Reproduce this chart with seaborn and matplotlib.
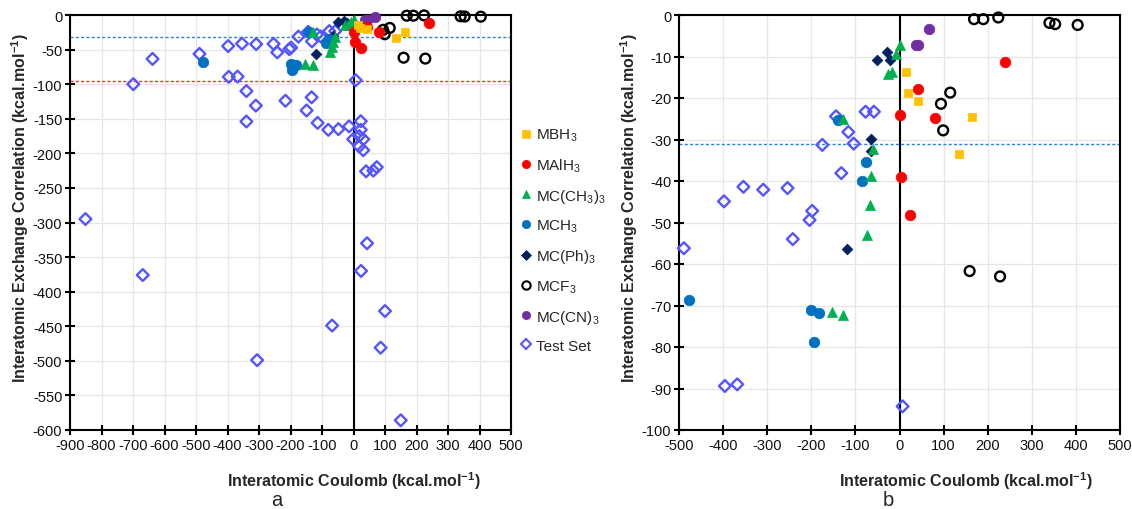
import matplotlib
matplotlib.use("Agg")
import matplotlib.pyplot as plt
from matplotlib.lines import Line2D
import seaborn as sns
import pandas as pd
import numpy as np

# ---------------- data ----------------
series_names = ["MBH3", "MAlH3", "MC(CH3)3", "MCH3", "MC(Ph)3", "MCF3", "MC(CN)3", "Test Set"]
legend_labels = [r"MBH$_3$", r"MAlH$_3$", r"MC(CH$_3$)$_3$", r"MCH$_3$",
                 r"MC(Ph)$_3$", r"MCF$_3$", r"MC(CN)$_3$", "Test Set"]

mbh3_x = [15, 20, 42, 164, 135]
mbh3_y = [-13.8, -18.7, -20.8, -24.5, -33.6]

malh3_x = [240, 42, 0, 80, 4, 24]
malh3_y = [-11.3, -17.9, -24.1, -24.9, -39.1, -48.2]

mcch3_x = [1, -9, -26, -16, -127, -59, -65, -67, -74, -154, -129]
mcch3_y = [-7.3, -9.5, -14.1, -13.8, -25.0, -32.4, -38.9, -45.9, -53.1, -71.5, -72.2]

mch3_x = [-140, -77, -86, -477, -200, -182, -195]
mch3_y = [-25.3, -35.4, -40.1, -68.6, -71.1, -71.9, -78.9]

mcph3_x = [-29, -50, -21, -65, -65, -119]
mcph3_y = [-8.8, -10.8, -10.9, -29.8, -32.8, -56.4]

mcf3_x = [169, 190, 224, 340, 353, 404, 115, 94, 99, 159, 228]
mcf3_y = [-1.0, -1.0, -0.6, -1.9, -2.2, -2.4, -18.7, -21.4, -27.8, -61.7, -63.0]

mccn3_x = [68, 38, 43]
mccn3_y = [-3.4, -7.2, -7.2]

test_x = [-144, -77, -58, -116, -175, -104, -132, -398, -354, -309, -254, -198, -204,
          -242, -489, -396, -368, 7,
          -851, -638, -699, -340, -310, -340, -216, -149, -133, -114, -80, -48, -14,
          23, 23, -1, 18, 31, 18, 31, 40, 63, 74, 43,
          -669, 24, 100, -68, -306, 86, 150]
test_y = [-24.4, -23.3, -23.3, -28.2, -31.3, -31.0, -38.1, -44.9, -41.4, -42.1, -41.7, -47.2, -49.4,
          -54.0, -56.2, -89.4, -89.0, -94.3,
          -295, -63.5, -100, -110, -131, -154, -124, -138, -119, -156, -166, -165, -161,
          -153.6, -166, -179.6, -175, -179.6, -190, -195.5, -226, -225, -220, -330,
          -376, -370, -428, -449, -499, -481, -586]

ref_blue = -31.2
ref_red = -95.0

left_xticks = list(range(-900, 501, 100))
left_yticks = list(range(-600, 1, 50))
right_xticks = list(range(-500, 501, 100))
right_yticks = list(range(-100, 1, 10))

# ---------------- styles ----------------
styles = {
    "MBH3":     dict(marker="s", color="#FFC000", filled=True,  s=36),
    "MAlH3":    dict(marker="o", color="#FF0000", filled=True,  s=58),
    "MC(CH3)3": dict(marker="^", color="#00B050", filled=True,  s=52),
    "MCH3":     dict(marker="o", color="#0070C0", filled=True,  s=58),
    "MC(Ph)3":  dict(marker="D", color="#002060", filled=True,  s=30),
    "MCF3":     dict(marker="o", color="#000000", filled=False, s=50),
    "MC(CN)3":  dict(marker="o", color="#7030A0", filled=True,  s=58),
    "Test Set": dict(marker="D", color="#5555FF", filled=False, s=36),
}

xs = [mbh3_x, malh3_x, mcch3_x, mch3_x, mcph3_x, mcf3_x, mccn3_x, test_x]
ys = [mbh3_y, malh3_y, mcch3_y, mch3_y, mcph3_y, mcf3_y, mccn3_y, test_y]
rows = []
for name, xv, yv in zip(series_names, xs, ys):
    for a, b in zip(xv, yv):
        rows.append((name, a, b))
df = pd.DataFrame(rows, columns=["series", "x", "y"])

sns.set_theme(style="white")
plt.rcParams["font.family"] = ["Liberation Sans", "DejaVu Sans"]
plt.rcParams["axes.unicode_minus"] = False
plt.rcParams["mathtext.fontset"] = "custom"
plt.rcParams["mathtext.rm"] = "Liberation Sans"
plt.rcParams["mathtext.it"] = "Liberation Sans:italic"
plt.rcParams["mathtext.bf"] = "Liberation Sans:bold"

W, H = 1132, 510
fig = plt.figure(figsize=(W / 100, H / 100), dpi=100)

ax_l = fig.add_axes([70 / W, 1 - 431 / H, 441 / W, 415 / H])
ax_r = fig.add_axes([679 / W, 1 - 431 / H, 441 / W, 415 / H])


def draw_panel(ax, xlim, ylim, xticks, yticks, show_red):
    sub_all = df[(df.x >= xlim[0]) & (df.x <= xlim[1]) & (df.y >= ylim[0]) & (df.y <= ylim[1])]
    ax.set_xlim(*xlim)
    ax.set_ylim(*ylim)
    ax.set_xticks(xticks)
    ax.set_yticks(yticks)
    ax.set_xticklabels([str(t) for t in xticks])
    ax.set_yticklabels([str(t) for t in yticks])
    ax.grid(True, color="#e6e6e6", lw=0.9)
    ax.set_axisbelow(True)
    ax.axvline(0, color="black", lw=1.5, zorder=2)
    ax.axhline(ref_blue, color="#2F7FD8", lw=1.0, ls=(0, (2.2, 1.6)), zorder=2)
    if show_red:
        ax.axhline(ref_red, color="#FF2A2A", lw=1.0, ls=(0, (2.2, 1.6)), zorder=2)
    for name in series_names[::-1]:
        st = styles[name]
        sub = sub_all[sub_all.series == name]
        if len(sub) == 0:
            continue
        sns.scatterplot(data=sub, x="x", y="y", ax=ax, marker=st["marker"], s=st["s"],
                        color=st["color"], legend=False, zorder=3)
        coll = ax.collections[-1]
        if st["filled"]:
            coll.set_facecolor(st["color"])
            coll.set_edgecolor(st["color"])
            coll.set_linewidth(0.5)
        else:
            coll.set_facecolor("none")
            coll.set_edgecolor(st["color"])
            coll.set_linewidth(1.7)
        coll.set_clip_on(False)
    for sp in ax.spines.values():
        sp.set_color("black")
        sp.set_linewidth(1.5)
        sp.set_visible(True)
    ax.tick_params(axis="both", which="major", direction="inout", length=7, width=1.5,
                   color="black", labelsize=10.5, labelcolor="#111111", pad=2,
                   left=True, bottom=True, top=False, right=False)
    ax.set_xlabel("")
    ax.set_ylabel("")


draw_panel(ax_l, (-900, 500), (-600, 0), left_xticks, left_yticks, True)
draw_panel(ax_r, (-500, 500), (-100, 0), right_xticks, right_yticks, False)

xlabel = r"Interatomic Coulomb (kcal.mol$^{\mathbf{-1}}$)"
ylabel = r"Interatomic Exchange Correlation (kcal.mol$^{\mathbf{-1}}$)"
fig.text(354 / W, 1 - 481 / H, xlabel, ha="center", va="center", fontsize=11.5, fontweight="bold")
fig.text(966 / W, 1 - 481 / H, xlabel, ha="center", va="center", fontsize=11.5, fontweight="bold")
fig.text(20 / W, 1 - 208 / H, ylabel, ha="center", va="center", rotation=90, fontsize=11.5, fontweight="bold")
fig.text(629 / W, 1 - 208 / H, ylabel, ha="center", va="center", rotation=90, fontsize=11.5, fontweight="bold")
fig.text(277 / W, 1 - 501 / H, "a", ha="center", va="center", fontsize=14.5)
fig.text(888 / W, 1 - 501 / H, "b", ha="center", va="center", fontsize=14.5)

handles = []
for name in series_names:
    st = styles[name]
    handles.append(Line2D([], [], ls="none", marker=st["marker"],
                          markersize=6 if st["marker"] != "D" else 5,
                          markerfacecolor=st["color"] if st["filled"] else "none",
                          markeredgecolor=st["color"], markeredgewidth=1.5 if not st["filled"] else 0.5))
fig.legend(handles, legend_labels, loc="upper left", bbox_to_anchor=(521 / W, 1 - 128 / H),
           frameon=False, fontsize=11, labelspacing=0.85, handlelength=0.7,
           handletextpad=0.3, borderaxespad=0, borderpad=0)

fig.savefig("out.png", dpi=100)
